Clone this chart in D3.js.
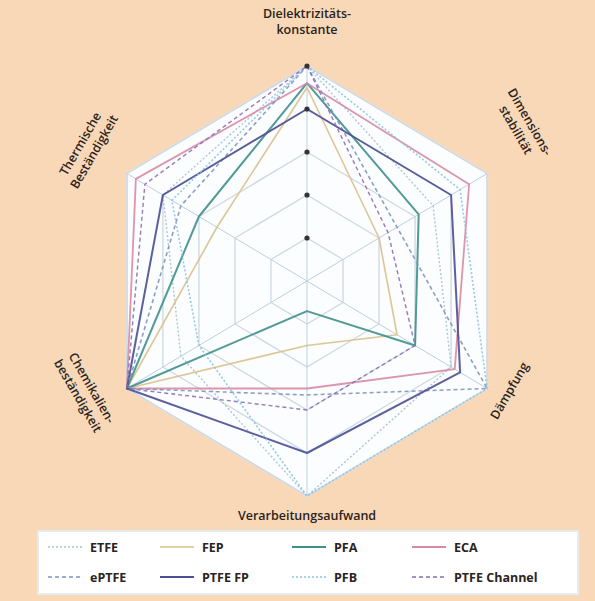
<!DOCTYPE html>
<html><head><meta charset="utf-8">
<script src="https://cdn.jsdelivr.net/npm/d3@7"></script>
<style>body{margin:0;background:#f9d8b8;}svg{display:block;}</style>
</head><body>
<svg id="c" width="595" height="601"></svg>
<script>
const axes = ["Dielektrizitätskonstante","Dimensionsstabilität","Dämpfung","Verarbeitungsaufwand","Chemikalienbeständigkeit","Thermische Beständigkeit"];
const tickValues = [2,4,6,8,10];
const seriesNames = ["ETFE","FEP","PFA","ECA","ePTFE","PTFE FP","PFB","PTFE Channel"];
const ETFE        = [10, 7.0, 8.0, 10, 7.0, 8.0];
const FEP         = [9.0, 4.0, 5.0, 3.0, 10, 5.0];
const PFA         = [9.2, 6.2, 6.0, 1.4, 10, 6.0];
const ECA         = [9.2, 9.0, 8.2, 5.0, 10, 9.5];
const ePTFE       = [10, 5.0, 10, 5.3, 10, 7.0];
const PTFE_FP     = [8.0, 8.0, 8.5, 8.0, 10, 8.0];
const PFB         = [10, 8.5, 10, 10, 6.0, 7.5];
const PTFE_Channel= [10, 4.5, 6.0, 6.0, 10, 9.0];
const seriesValues = [ETFE, FEP, PFA, ECA, ePTFE, PTFE_FP, PFB, PTFE_Channel];

const styles = [
  {c:"#a9bfd3", w:1.4, d:"2,2"},
  {c:"#d8c08a", w:1.6, d:null},
  {c:"#3f8f8c", w:2.0, d:null},
  {c:"#d98aa3", w:1.8, d:null},
  {c:"#7f95bd", w:1.6, d:"4,3"},
  {c:"#4d4f93", w:2.0, d:null},
  {c:"#8cc4df", w:1.6, d:"2,2"},
  {c:"#8a6db3", w:1.4, d:"4,3"}
];

const svg = d3.select("#c");
svg.append("rect").attr("width",595).attr("height",601).attr("fill","#f9d8b8");
const cx = 307, cy = 281, rx = 208, ry = 215;
const r = d3.scaleLinear().domain([0,10]).range([0,1]);
const ang = d3.scaleLinear().domain([0, axes.length]).range([0, 2*Math.PI]);
const pt = (i, v) => [cx + rx*r(v)*Math.sin(ang(i)), cy - ry*r(v)*Math.cos(ang(i))];
const line = d3.line();

svg.append("path").attr("d", line(axes.map((a,i)=>pt(i,10)))+"Z")
  .attr("fill","#fbfdfe").attr("stroke","#dfe6ec").attr("stroke-width",2);
tickValues.forEach(t=>{
  svg.append("path").attr("d", line(axes.map((a,i)=>pt(i,t)))+"Z")
    .attr("fill","none").attr("stroke","#cdd8e2").attr("stroke-width",1.3);
});
axes.forEach((a,i)=>{
  const p=pt(i,10);
  svg.append("line").attr("x1",cx).attr("y1",cy).attr("x2",p[0]).attr("y2",p[1])
    .attr("stroke","#bcd0de").attr("stroke-width",1);
});

seriesValues.forEach((vals,k)=>{
  const s=styles[k];
  svg.append("path").attr("d", line(vals.map((v,i)=>pt(i,v)))+"Z")
    .attr("fill","none").attr("stroke",s.c).attr("stroke-width",s.w)
    .attr("stroke-dasharray",s.d).attr("stroke-linejoin","round").attr("opacity",0.9);
});

tickValues.forEach(t=>{
  const p=pt(0,t);
  svg.append("circle").attr("cx",p[0]).attr("cy",p[1]).attr("r",2.6).attr("fill","#333");
});

const lab = svg.append("g").attr("font-family","Open Sans, Noto Sans, sans-serif")
  .attr("font-size",12.5).attr("font-weight","600").attr("fill","#2a2420").attr("text-anchor","middle");
function mlabel(x,y,rot,lines){
  const g=lab.append("g").attr("transform",`translate(${x},${y}) rotate(${rot})`);
  lines.forEach((l,j)=>g.append("text").attr("y",j*16).text(l));
}
mlabel(307,18,0,["Dielektrizitäts-","konstante"]);
mlabel(526,124,60,["Dimensions-","stabilität"]);
mlabel(513,393,-60,["Dämpfung"]);
mlabel(307,520,0,["Verarbeitungsaufwand"]);
mlabel(88,390,60,["Chemikalien-","beständigkeit"]);
mlabel(84,146,-60,["Thermische","Beständigkeit"]);

const lg = svg.append("g");
lg.append("rect").attr("x",38).attr("y",531).attr("width",540).attr("height",63)
  .attr("fill","#ffffff").attr("stroke","#e6ebee").attr("stroke-width",2);
const colX=[48,160,292,412], rowY=[547,577];
seriesNames.forEach((n,k)=>{
  const x=colX[k%4], y=rowY[Math.floor(k/4)], s=styles[k];
  lg.append("line").attr("x1",x).attr("x2",x+34).attr("y1",y).attr("y2",y)
    .attr("stroke",s.c).attr("stroke-width",s.w).attr("stroke-dasharray",s.d);
  lg.append("text").attr("x",x+42).attr("y",y+4.5).text(n)
    .attr("font-family","Open Sans, Noto Sans, sans-serif").attr("font-size",12.5)
    .attr("font-weight","700").attr("fill","#2a2420");
});
</script>
</body></html>
